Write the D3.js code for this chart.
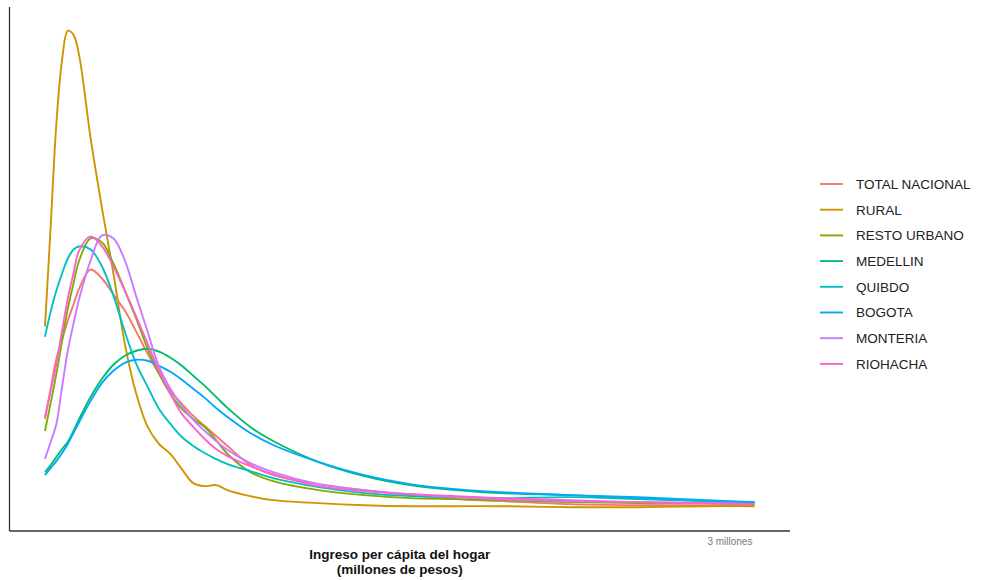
<!DOCTYPE html>
<html lang="es">
<head>
<meta charset="UTF-8">
<title>Densidad del ingreso per cápita</title>
<style>
  body { margin: 0; background: #fff; }
  svg { display: block; font-family: "Liberation Sans", Arial, sans-serif; }
</style>
</head>
<body>
<svg id="chart" width="984" height="580"></svg>
<script src="https://d3js.org/d3.v7.min.js"></script>
<script>
// ingreso per cápita (millones de pesos)
const ingreso = [0, 0.025, 0.05, 0.075, 0.1, 0.125, 0.15, 0.2, 0.25, 0.3, 0.35, 0.4, 0.45, 0.5, 0.55, 0.6, 0.65,
  0.7, 0.75, 0.8, 0.9, 1.0, 1.2, 1.4, 1.6, 1.8, 2.0, 2.3, 2.6, 2.9, 3.11];

const dominios = ["TOTAL NACIONAL", "RURAL", "RESTO URBANO", "MEDELLIN", "QUIBDO", "BOGOTA", "MONTERIA", "RIOHACHA"];

// densidad estimada por dominio
const totalNacional = [0.45, 0.60, 0.75, 0.845, 0.94, 1.02, 1.10, 1.195, 1.15, 1.07, 0.99, 0.885, 0.775, 0.675, 0.59, 0.525, 0.465,
  0.415, 0.365, 0.315, 0.22, 0.17, 0.125, 0.095, 0.07, 0.05, 0.04, 0.025, 0.02, 0.02, 0.02];
const rural = [0.91, 1.41, 1.925, 2.24, 2.385, 2.365, 2.26, 1.85, 1.50, 1.175, 0.825, 0.575, 0.41, 0.325, 0.275, 0.20, 0.13,
  0.115, 0.12, 0.095, 0.065, 0.045, 0.03, 0.02, 0.015, 0.015, 0.015, 0.01, 0.01, 0.015, 0.015];
const restoUrbano = [0.39, 0.53, 0.675, 0.84, 1.00, 1.125, 1.24, 1.35, 1.33, 1.225, 1.09, 0.95, 0.80, 0.675, 0.575, 0.50, 0.45,
  0.41, 0.345, 0.275, 0.185, 0.14, 0.095, 0.07, 0.055, 0.05, 0.045, 0.035, 0.03, 0.03, 0.025];
const medellin = [0.185, 0.22, 0.26, 0.30, 0.335, 0.39, 0.45, 0.56, 0.65, 0.72, 0.765, 0.79, 0.80, 0.785, 0.755, 0.715, 0.665,
  0.615, 0.56, 0.505, 0.41, 0.34, 0.235, 0.165, 0.12, 0.095, 0.08, 0.07, 0.055, 0.04, 0.03];
const quibdo = [0.86, 0.985, 1.09, 1.175, 1.25, 1.295, 1.31, 1.295, 1.21, 1.065, 0.885, 0.725, 0.61, 0.50, 0.425, 0.36, 0.315,
  0.28, 0.25, 0.225, 0.19, 0.155, 0.11, 0.08, 0.065, 0.06, 0.055, 0.06, 0.05, 0.04, 0.035];
const bogota = [0.17, 0.205, 0.24, 0.28, 0.325, 0.38, 0.435, 0.54, 0.63, 0.69, 0.73, 0.745, 0.74, 0.715, 0.685, 0.645, 0.60,
  0.555, 0.505, 0.46, 0.38, 0.32, 0.235, 0.17, 0.125, 0.10, 0.085, 0.07, 0.06, 0.045, 0.035];
const monteria = [0.25, 0.335, 0.425, 0.61, 0.79, 0.925, 1.05, 1.24, 1.365, 1.35, 1.24, 1.06, 0.885, 0.71, 0.60, 0.515, 0.445,
  0.39, 0.34, 0.295, 0.23, 0.185, 0.125, 0.095, 0.075, 0.06, 0.05, 0.04, 0.035, 0.03, 0.025];
const riohacha = [0.46, 0.59, 0.725, 0.89, 1.05, 1.175, 1.29, 1.36, 1.31, 1.21, 1.09, 0.96, 0.825, 0.69, 0.575, 0.475, 0.41,
  0.35, 0.30, 0.265, 0.215, 0.175, 0.115, 0.09, 0.075, 0.065, 0.055, 0.045, 0.035, 0.03, 0.025];

const colores = ["#F8766D", "#CD9600", "#7CAE00", "#00BE67", "#00BFC4", "#00A9FF", "#C77CFF", "#FF61CC"];
const xTicks = [3];
const xTickLabels = ["3 millones"];

const series = [totalNacional, rural, restoUrbano, medellin, quibdo, bogota, monteria, riohacha];

const svg = d3.select("#chart");
const panel = { left: 9.5, right: 790, top: 7, bottom: 531 };

// ggplot-style 5% expansion
const xExt = d3.extent(ingreso);
const xPad = (xExt[1] - xExt[0]) * 0.05;
const x = d3.scaleLinear()
  .domain([xExt[0] - xPad, xExt[1] + xPad])
  .range([panel.left, panel.right]);

const allY = series.flat();
const yExt = d3.extent(allY);
const yPad = (yExt[1] - yExt[0]) * 0.05;
const y = d3.scaleLinear()
  .domain([yExt[0] - yPad, yExt[1] + yPad])
  .range([panel.bottom, panel.top]);

const line = d3.line()
  .x((d, i) => x(ingreso[i]))
  .y(d => y(d))
  .curve(d3.curveCatmullRom.alpha(0.5));

svg.append("g")
  .selectAll("path")
  .data(series.map((s, i) => ({ s, i })))
  .join("path")
  .attr("d", d => line(d.s))
  .attr("fill", "none")
  .attr("stroke", d => colores[d.i])
  .attr("stroke-width", 1.9);

// axes
const xAxis = d3.axisBottom(x)
  .tickValues(xTicks)
  .tickFormat((d, i) => xTickLabels[i])
  .tickSize(0)
  .tickPadding(7);

svg.append("g")
  .attr("transform", `translate(0,${panel.bottom})`)
  .call(xAxis)
  .call(g => g.select(".domain").remove())
  .call(g => g.selectAll("text")
    .attr("font-family", "Liberation Sans, Arial, sans-serif")
    .attr("font-size", 10)
    .attr("fill", "#7a7a7a"));

svg.append("line")
  .attr("x1", panel.left).attr("x2", panel.right)
  .attr("y1", panel.bottom).attr("y2", panel.bottom)
  .attr("stroke", "#333").attr("stroke-width", 1.3);

svg.append("line")
  .attr("x1", panel.left).attr("x2", panel.left)
  .attr("y1", panel.top).attr("y2", panel.bottom)
  .attr("stroke", "#333").attr("stroke-width", 1.3);

// axis title
const cx = (panel.left + panel.right) / 2;
const title = svg.append("text")
  .attr("text-anchor", "middle")
  .attr("font-size", 13.5)
  .attr("font-weight", "bold")
  .attr("fill", "#111");
title.append("tspan").attr("x", cx).attr("y", 559).text("Ingreso per cápita del hogar");
title.append("tspan").attr("x", cx).attr("y", 574).text("(millones de pesos)");

// legend
const legend = svg.append("g").attr("transform", "translate(820,184)");
const item = legend.selectAll("g")
  .data(dominios)
  .join("g")
  .attr("transform", (d, i) => `translate(0,${i * 25.7})`);

item.append("line")
  .attr("x1", 0).attr("x2", 23)
  .attr("stroke", (d, i) => colores[i])
  .attr("stroke-width", 1.9);

item.append("text")
  .attr("x", 36)
  .attr("dy", "0.36em")
  .attr("font-size", 13.5)
  .attr("fill", "#222")
  .text(d => d);
</script>
</body>
</html>
